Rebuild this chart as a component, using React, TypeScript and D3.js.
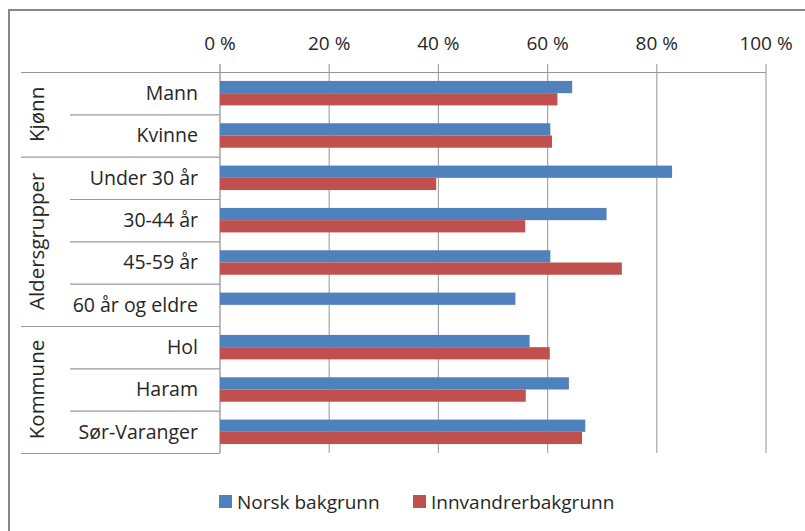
import React from "react";
import * as d3 from "d3";

const categories = [
  "Mann", "Kvinne",
  "Under 30 år", "30-44 år", "45-59 år", "60 år og eldre",
  "Hol", "Haram", "Sør-Varanger",
];
const groups = [
  { name: "Kjønn", start: 0, end: 2 },
  { name: "Aldersgrupper", start: 2, end: 6 },
  { name: "Kommune", start: 6, end: 9 },
];
const seriesNames = ["Norsk bakgrunn", "Innvandrerbakgrunn"];
const norsk = [0.645, 0.605, 0.828, 0.708, 0.605, 0.541, 0.567, 0.639, 0.669];
const innvandrer = [0.618, 0.608, 0.396, 0.559, 0.736, null, 0.604, 0.56, 0.663];
const ticks = [0, 0.2, 0.4, 0.6, 0.8, 1];
const colors = ["#4F81BD", "#C0504D"];

const W = 805;
const H = 531;
const FONT = "'Open Sans', sans-serif";
const TEXT = "#262626";

export default function App() {
  const x = d3.scaleLinear().domain([0, 1]).range([220, 766]);
  const y = d3.scaleBand<string>().domain(categories).range([72, 453]).padding(0);
  const inner = d3
    .scaleBand<string>()
    .domain(seriesNames)
    .range([0, y.bandwidth()])
    .paddingInner(0)
    .paddingOuter(0.73);
  const values = [norsk, innvandrer];
  const axisLeft = 21;
  const catLeft = 70;
  const groupX = 37;

  const groupStarts = new Set(groups.map((g) => g.start));

  return (
    <svg
      width={W}
      height={H}
      style={{ position: "absolute", left: 0, top: 0, background: "#fff" }}
      fontFamily={FONT}
    >
      <rect x={0} y={0} width={W} height={H} fill="#fff" />
      <rect x={9} y={10} width={W + 20} height={H + 40} fill="none" stroke="#878787" strokeWidth={2} />

      {/* gridlines */}
      {ticks.map((t) => (
        <line
          key={"g" + t}
          x1={x(t)}
          x2={x(t)}
          y1={64}
          y2={453}
          stroke={t === 0 ? "#8c8c8c" : "#a6a6a6"}
          strokeWidth={1.2}
        />
      ))}
      {/* top axis line */}
      <line x1={axisLeft} x2={x(1)} y1={72.5} y2={72.5} stroke="#969696" strokeWidth={1.2} />

      {/* category separators */}
      {categories.map((c, i) => {
        if (i === 0) return null;
        const yy = (y(c) as number) + 0.5;
        const x1 = groupStarts.has(i) ? axisLeft : catLeft;
        return <line key={"s" + c} x1={x1} x2={x(0)} y1={yy} y2={yy} stroke="#9a9a9a" strokeWidth={1.2} />;
      })}
      <line x1={axisLeft} x2={x(0)} y1={453.5} y2={453.5} stroke="#9a9a9a" strokeWidth={1.2} />

      {/* tick labels */}
      {ticks.map((t) => (
        <text key={"t" + t} x={x(t)} y={50} textAnchor="middle" fontSize={19} fill={TEXT}>
          {`${Math.round(t * 100)} %`}
        </text>
      ))}

      {/* bars */}
      {seriesNames.map((s, si) =>
        categories.map((c, ci) => {
          const v = values[si][ci];
          if (v == null) return null;
          const by = (y(c) as number) + (inner(s) as number);
          return (
            <rect
              key={s + c}
              x={x(0)}
              y={by}
              width={x(v) - x(0)}
              height={inner.bandwidth()}
              fill={colors[si]}
            />
          );
        })
      )}

      {/* category labels */}
      {categories.map((c) => (
        <text
          key={"l" + c}
          x={198}
          y={(y(c) as number) + y.bandwidth() / 2}
          dy="0.35em"
          textAnchor="end"
          fontSize={19.5}
          fill={TEXT}
        >
          {c}
        </text>
      ))}

      {/* group labels */}
      {groups.map((g) => {
        const y0 = y(categories[g.start]) as number;
        const y1 = (y(categories[g.end - 1]) as number) + y.bandwidth();
        const cy = (y0 + y1) / 2;
        return (
          <text
            key={"gr" + g.name}
            transform={`translate(${groupX},${cy}) rotate(-90)`}
            dy="0.35em"
            textAnchor="middle"
            fontSize={20.5}
            fill={TEXT}
          >
            {g.name}
          </text>
        );
      })}

      {/* legend */}
      {seriesNames.map((s, i) => {
        const lx = i === 0 ? 219 : 413;
        return (
          <g key={"lg" + s}>
            <rect x={lx} y={495} width={13} height={13} fill={colors[i]} />
            <text x={lx + 18} y={502} dy="0.35em" fontSize={19} fill={TEXT}>
              {s}
            </text>
          </g>
        );
      })}
    </svg>
  );
}
